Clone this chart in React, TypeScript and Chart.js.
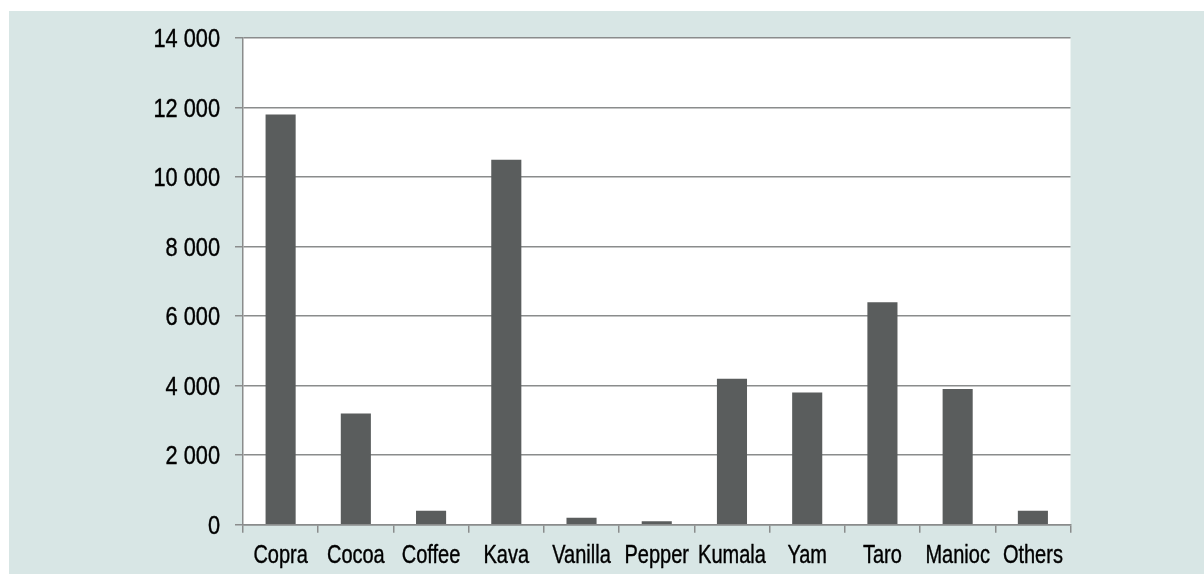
import React, { useEffect, useRef } from "react";
import { Chart, registerables } from "chart.js";

Chart.register(...registerables);

const categories = ["Copra", "Cocoa", "Coffee", "Kava", "Vanilla", "Pepper", "Kumala", "Yam", "Taro", "Manioc", "Others"];
const values = [11800, 3200, 400, 10500, 200, 100, 4200, 3800, 6400, 3900, 400];
const yTicks = [0, 2000, 4000, 6000, 8000, 10000, 12000, 14000];

const FONT = '"Liberation Sans", Arial, sans-serif';
const PANEL = "#d8e6e5";
const GRID = "#8a8c8c";
const BAR = "#5a5d5d";
const TEXT = "#000000";

const fmt = (v: number) => {
  const s = String(Math.round(v));
  return s.replace(/\B(?=(\d{3})+(?!\d))/g, " ");
};

const panelPlugin = {
  id: "panelBg",
  beforeDraw(chart: any) {
    const { ctx, chartArea } = chart;
    ctx.save();
    ctx.fillStyle = PANEL;
    ctx.fillRect(9, 11, chart.width - 9, chart.height - 11);
    ctx.fillStyle = "#ffffff";
    ctx.fillRect(chartArea.left, chartArea.top, chartArea.right - chartArea.left, chartArea.bottom - chartArea.top);
    ctx.restore();
  },
};

// Draws the tick labels in a condensed face (Arial-Narrow-like horizontal scaling)
const condensedLabels = {
  id: "condensedLabels",
  afterDraw(chart: any) {
    const { ctx } = chart;
    const xs = chart.scales.x;
    const ys = chart.scales.y;
    ctx.save();
    ctx.fillStyle = TEXT;
    ctx.strokeStyle = TEXT;
    ctx.lineWidth = 0.4;
    ctx.lineJoin = "round";
    ctx.font = `25px ${FONT}`;
    ctx.textBaseline = "alphabetic";
    const labels: string[] = xs.getLabels();
    const sx = 0.8;
    labels.forEach((lab, i) => {
      const px = xs.getPixelForTick(i);
      ctx.save();
      ctx.translate(px, xs.bottom - 11);
      ctx.scale(sx, 1);
      ctx.textAlign = "center";
      ctx.fillText(lab, 0, 0);
      ctx.strokeText(lab, 0, 0);
      ctx.restore();
    });
    const sy = 0.87;
    ys.ticks.forEach((t: any) => {
      const py = ys.getPixelForValue(t.value);
      const s = fmt(t.value);
      ctx.save();
      ctx.translate(ys.right - 23, py + 9);
      ctx.scale(sy, 1);
      ctx.textAlign = "right";
      ctx.fillText(s, 0, 0);
      ctx.strokeText(s, 0, 0);
      ctx.restore();
    });
    ctx.restore();
  },
};

export default function App() {
  const ref = useRef<HTMLCanvasElement | null>(null);
  useEffect(() => {
    if (!ref.current) return;
    const chart = new Chart(ref.current, {
      type: "bar",
      data: {
        labels: categories,
        datasets: [
          {
            data: values,
            backgroundColor: BAR,
            borderWidth: 0,
            barPercentage: 0.4,
            categoryPercentage: 1,
          },
        ],
      },
      plugins: [panelPlugin, condensedLabels],
      options: {
        animation: false,
        responsive: false,
        maintainAspectRatio: false,
        devicePixelRatio: 1,
        layout: { padding: { left: 0, top: 38, right: 133.5, bottom: 0 } },
        plugins: { legend: { display: false }, tooltip: { enabled: false }, title: { display: false } },
        scales: {
          x: {
            offset: true,
            grid: { display: true, drawOnChartArea: false, drawTicks: true, tickLength: 8, color: GRID, lineWidth: 1.5, offset: true },
            border: { display: true, color: GRID, width: 1.5 },
            ticks: { display: false, autoSkip: false },
            afterFit: (s: any) => { s.height = 49.3; },
          },
          y: {
            min: 0,
            max: 14000,
            afterBuildTicks: (s: any) => { s.ticks = yTicks.map((v) => ({ value: v })); },
            grid: { display: true, drawOnChartArea: true, drawTicks: true, tickLength: 8, color: GRID, lineWidth: 1.5 },
            border: { display: true, color: GRID, width: 1.5 },
            ticks: { display: false },
            afterFit: (s: any) => { s.width = 243; },
          },
        },
      },
    } as any);
    return () => chart.destroy();
  }, []);
  return (
    <canvas
      ref={ref}
      width={1204}
      height={574}
      style={{ position: "fixed", left: 0, top: 0, width: 1204, height: 574, display: "block" }}
    />
  );
}
